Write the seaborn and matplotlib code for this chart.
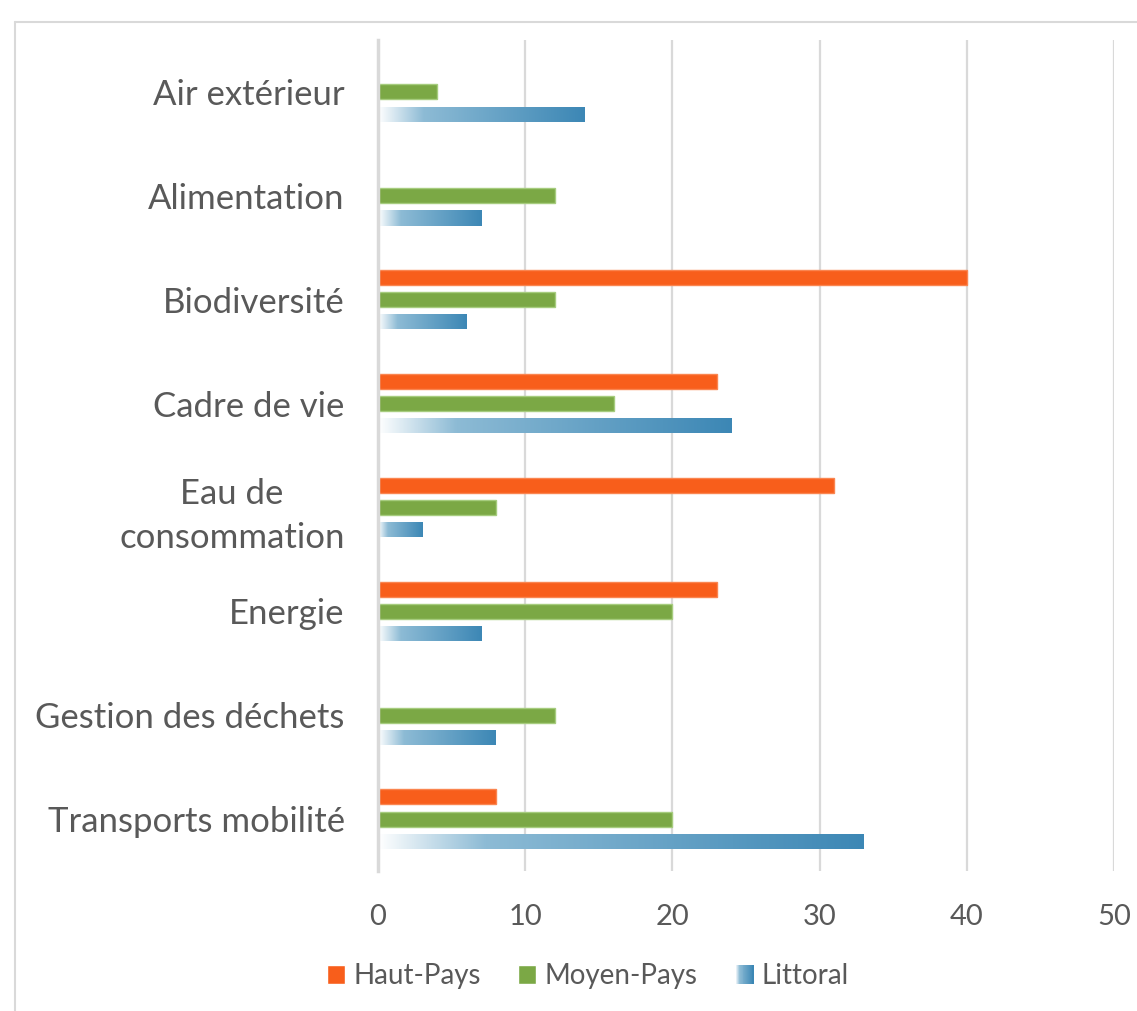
import pandas as pd
import matplotlib
matplotlib.use('Agg')
import matplotlib.pyplot as plt
import seaborn as sns
import numpy as np
from matplotlib.colors import LinearSegmentedColormap
from matplotlib.patches import Rectangle
from matplotlib.legend_handler import HandlerBase
from matplotlib.lines import Line2D

# data
categories = ['Air extérieur', 'Alimentation', 'Biodiversité', 'Cadre de vie',
              'Eau de\nconsommation', 'Energie', 'Gestion des déchets', 'Transports mobilité']
series = ['Haut-Pays', 'Moyen-Pays', 'Littoral']
haut_pays = [0, 0, 40, 23, 31, 23, 0, 8]
moyen_pays = [4, 12, 12, 16, 8, 20, 12, 20]
littoral = [14, 7, 6, 24, 3, 7, 8, 33]
x_ticks = [0, 10, 20, 30, 40, 50]

df = pd.DataFrame({'Thème': categories * 3,
                   'Zone': [s for s in series for _ in categories],
                   'Valeur': haut_pays + moyen_pays + littoral})

orange = '#f85e1b'
green = '#7ba845'
text_col = '#595959'
grid_col = '#d9d9d9'
blue_cmap = LinearSegmentedColormap.from_list(
    'littoral', [(0, '#ffffff'), (0.22, '#8dbbd5'), (1, '#3c87b5')])


class GradientHandler(HandlerBase):
  # legend square with the same gradient as the Littoral bars
  def create_artists(self, legend, orig_handle, xdescent, ydescent, width, height, fontsize, trans):
    n = 20
    arts = []
    for i in range(n):
      r = Rectangle((-xdescent + i * width / n, -ydescent), width / n + 0.3, height,
                    facecolor=blue_cmap(i / (n - 1)), edgecolor='none', transform=trans)
      arts.append(r)
    return arts


sns.set_style('white')
plt.rcParams['font.family'] = ['Lato', 'DejaVu Sans']

fig = plt.figure(figsize=(11.37, 10.11), dpi=100)
ax = fig.add_axes([378 / 1137, 1 - 871 / 1011, (1114 - 378) / 1137, (871 - 40) / 1011])

sns.barplot(data=df, x='Valeur', y='Thème', hue='Zone', orient='h', ax=ax,
            palette=[orange, green, '#3c87b5'], width=0.64, gap=0.32,
            legend=False, saturation=1)

# bar edges like the original
for patch in ax.containers[0]:
  patch.set_edgecolor('#fa8550')
  patch.set_linewidth(1)
for patch in ax.containers[1]:
  patch.set_edgecolor('#a6cc7e')
  patch.set_linewidth(1)
for cont in ax.containers:
  for patch in cont:
    if patch.get_width() == 0:
      patch.set_visible(False)

ax.set_xlim(0, 50)
ylim = ax.get_ylim()

# gradient fill for each Littoral bar
grad = np.linspace(0, 1, 256).reshape(1, -1)
for patch in ax.containers[2]:
  x0, y0 = patch.get_x(), patch.get_y()
  w, h = patch.get_width(), patch.get_height()
  patch.set_facecolor('none')
  patch.set_edgecolor('none')
  im = ax.imshow(grad, cmap=blue_cmap, aspect='auto', extent=[x0, x0 + w, y0 + h, y0], zorder=2)
  im.set_clip_path(patch)

ax.set_xlim(0, 50)
ax.set_ylim(ylim)

ax.set_xticks(x_ticks)
ax.xaxis.grid(True, color=grid_col, linewidth=1.6)
ax.set_axisbelow(True)
for side in ['top', 'right', 'bottom']:
  ax.spines[side].set_visible(False)
ax.spines['left'].set_color(grid_col)
ax.spines['left'].set_linewidth(2.5)
ax.set_xlabel('')
ax.set_ylabel('')
ax.tick_params(axis='x', length=0, pad=24, labelsize=21, labelcolor=text_col)
ax.tick_params(axis='y', length=0, pad=24, labelsize=25, labelcolor=text_col)
for lab in ax.get_yticklabels():
  lab.set_multialignment('center')
  lab.set_linespacing(1.45)

handles = [Rectangle((0, 0), 1, 1, facecolor=orange),
           Rectangle((0, 0), 1, 1, facecolor=green),
           Rectangle((0, 0), 1, 1, facecolor='#3c87b5')]
fig.legend(handles, series, loc='center', bbox_to_anchor=(588 / 1137, 1 - 976 / 1011),
           ncol=3, frameon=False, fontsize=20, labelcolor=text_col,
           handlelength=0.65, handleheight=0.65, handletextpad=0.3, columnspacing=1.35,
           handler_map={handles[2]: GradientHandler()})

# light frame of the chart area
fig.add_artist(Line2D([15 / 1137, 15 / 1137], [0, 1 - 22 / 1011], transform=fig.transFigure,
                      color=grid_col, linewidth=1.5))
fig.add_artist(Line2D([15 / 1137, 1], [1 - 22 / 1011, 1 - 22 / 1011], transform=fig.transFigure,
                      color=grid_col, linewidth=1.5))

fig.savefig('out.png', dpi=100, facecolor='white')
